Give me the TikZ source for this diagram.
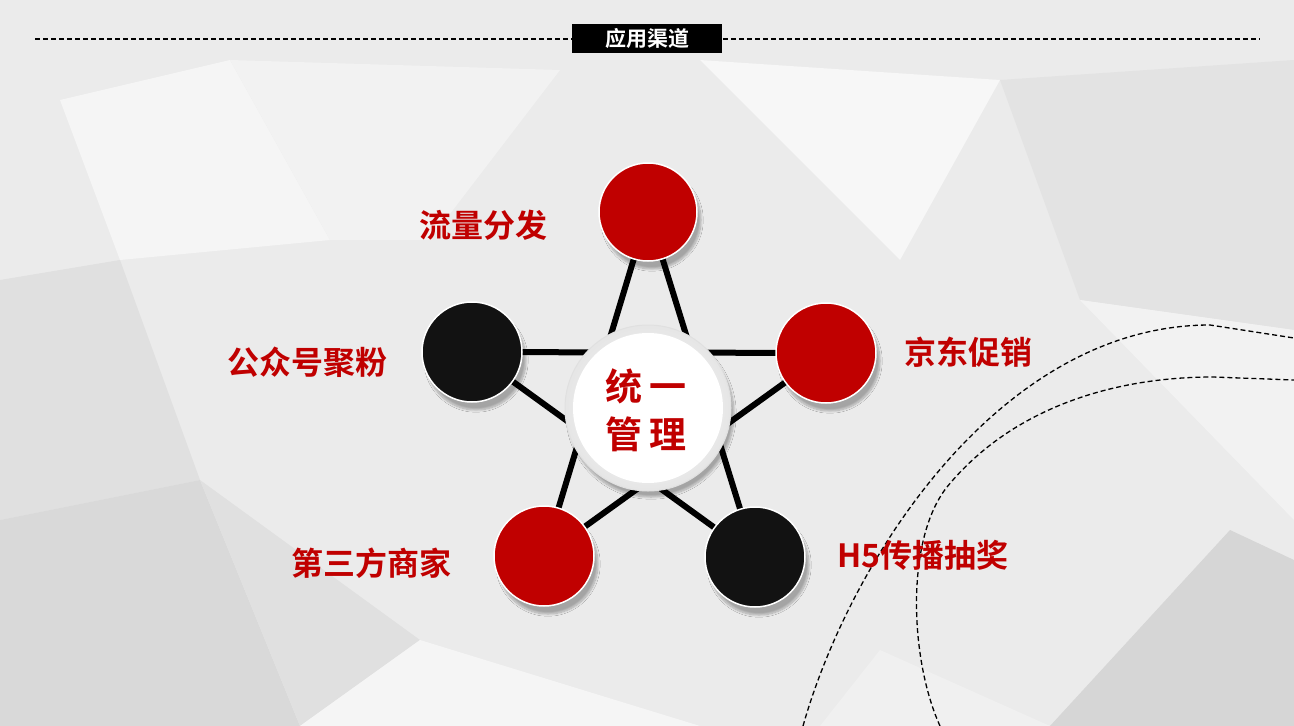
\documentclass[tikz,border=0pt]{standalone}
\usepackage{fontspec}
\setmainfont{Noto Sans CJK SC}[BoldFont={Noto Sans CJK SC Bold}]
\usetikzlibrary{shadows,shadows.blur}
\definecolor{myred}{RGB}{192,0,0}
\tikzset{
  redball/.style={circle,fill=myred,draw=white,line width=1.5pt,minimum size=98pt,blur shadow={shadow blur steps=10,shadow xshift=4pt,shadow yshift=-8pt,shadow opacity=30}},
  blackball/.style={circle,fill=black!93,draw=white,line width=1.5pt,minimum size=100pt,blur shadow={shadow blur steps=10,shadow xshift=4pt,shadow yshift=-8pt,shadow opacity=30}},
  lbl/.style={text=myred,font=\bfseries\fontsize{32}{36}\selectfont},
  starline/.style={line width=6pt,black},
  arcline/.style={dash pattern=on 5pt off 3pt,line width=1.3pt,black}
}
\begin{document}
\begin{tikzpicture}[x=1pt,y=-1pt]
\useasboundingbox (0,0) rectangle (1294,726);
\fill[black!8] (0,0) rectangle (1294,726);
% faceted background
\fill[black!4] (60,100) -- (230,60) -- (330,240) -- (120,260) -- cycle;
\fill[black!12] (0,280) -- (120,260) -- (200,480) -- (0,520) -- cycle;
\fill[black!15] (0,520) -- (200,480) -- (300,726) -- (0,726) -- cycle;
\fill[black!5] (230,60) -- (560,70) -- (430,240) -- (330,240) -- cycle;
\fill[black!3] (700,60) -- (1000,80) -- (900,260) -- cycle;
\fill[black!11] (1000,80) -- (1294,60) -- (1294,330) -- (1080,300) -- cycle;
\fill[black!5] (1080,300) -- (1294,330) -- (1294,520) -- cycle;
\fill[black!16] (1050,726) -- (1230,530) -- (1294,560) -- (1294,726) -- cycle;
\fill[black!12] (200,480) -- (420,640) -- (300,726) -- cycle;
\fill[black!4] (420,640) -- (700,726) -- (300,726) -- cycle;
\fill[black!6] (880,650) -- (1050,726) -- (820,726) -- cycle;
% header
\draw[dash pattern=on 5pt off 3pt,line width=1.3pt] (35,39) -- (1260,39);
\node[fill=black,text=white,font=\bfseries\fontsize{21}{24}\selectfont,minimum width=150pt,minimum height=29pt,inner sep=0pt] (title) at (647,38.5) {应用渠道};
% arcs
\draw[arcline] (803,726) .. controls (850,560) and (1000,325) .. (1210,325) -- (1294,338);
\draw[arcline] (940,726) .. controls (910,660) and (905,540) .. (947,487) .. controls (1010,410) and (1110,377) .. (1213,377) -- (1294,380);
% star lines
\coordinate (T) at (648,212);
\coordinate (R) at (826,353);
\coordinate (L) at (472,352);
\coordinate (BL) at (544,556);
\coordinate (BR) at (755,557);
\draw[starline] (T) -- (BL) -- (R) -- (L) -- (BR) -- cycle;
% balls
\node[redball] (t) at (T) {};
\node[redball,minimum size=100pt] (r) at (R) {};
\node[blackball] (l) at (L) {};
\node[redball,minimum size=100pt] (bl) at (BL) {};
\node[blackball] (br) at (BR) {};
% center
\node[circle,minimum size=166pt,draw=black!12,line width=1pt,shading=radial,inner color=white,outer color=black!10,blur shadow={shadow blur steps=10,shadow xshift=3pt,shadow yshift=-6pt,shadow opacity=30}] (c) at (648,408) {};
\node[circle,minimum size=150pt,fill=white] (ci) at (648,408) {};
\node[text=myred,font=\bfseries\fontsize{37}{48}\selectfont,align=center] (ct) at (646,410) {统\,一\\管\,理};
% labels
\node[lbl] (lt) at (483,225) {流量分发};
\node[lbl] (lr) at (968,352) {京东促销};
\node[lbl] (ll) at (307,362) {公众号聚粉};
\node[lbl] (lbl1) at (371,563) {第三方商家};
\node[lbl] (lbr) at (923,555) {H5传播抽奖};
\end{tikzpicture}
\end{document}
